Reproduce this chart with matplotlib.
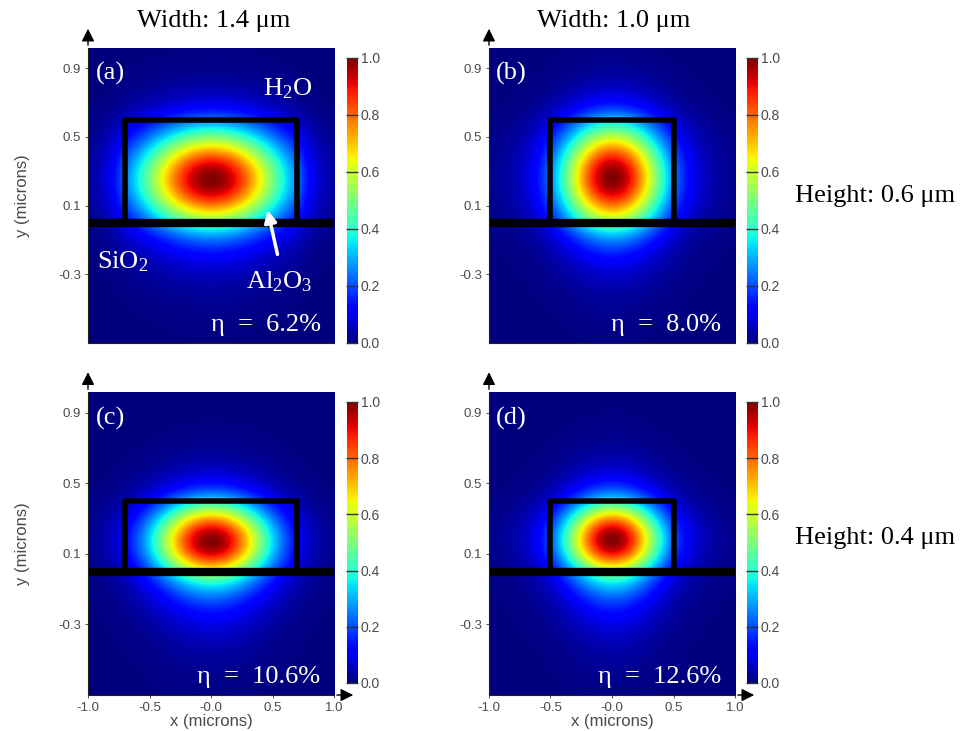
import numpy as np
import matplotlib
matplotlib.use("Agg")
from matplotlib import pyplot as plt

plt.rcParams["mathtext.fontset"] = "custom"
plt.rcParams["mathtext.rm"] = "Liberation Serif"
plt.rcParams["mathtext.it"] = "Liberation Serif:italic"

# waveguide geometry and mode parameters, one entry per panel (a)-(d)
widths = [1.4, 1.0, 1.4, 1.0]
heights = [0.6, 0.6, 0.4, 0.4]
sigma_x = [0.42, 0.305, 0.34, 0.285]
sigma_y = [0.21, 0.228, 0.166, 0.16]
centre_y = [0.25, 0.26, 0.17, 0.18]
decay_side = [0.14, 0.17, 0.15, 0.17]
decay_top = [0.10, 0.11, 0.10, 0.11]
decay_sub = [0.14, 0.15, 0.16, 0.17]
efficiency = ["6.2%", "8.0%", "10.6%", "12.6%"]
panel_tags = ["(a)", "(b)", "(c)", "(d)"]

width_titles = ["Width: 1.4 \u03bcm", "Width: 1.0 \u03bcm"]
height_titles = ["Height: 0.6 \u03bcm", "Height: 0.4 \u03bcm"]

x_ticks = [-1.0, -0.5, 0.0, 0.5, 1.0]
x_tick_labels = ["-1.0", "-0.5", "-0.0", "0.5", "1.0"]
y_ticks = [0.9, 0.5, 0.1, -0.3]
y_tick_labels = ["0.9", "0.5", "0.1", "-0.3"]
cbar_ticks = [0.0, 0.2, 0.4, 0.6, 0.8, 1.0]

XLIM = (-1.0, 1.0)
YLIM = (-0.70, 1.018)
SANS = "Liberation Sans"
SERIF = "Liberation Serif"
GREY = "#4a4a4a"


def mode_profile(i, X, Y):
    w2 = widths[i] / 2
    h = heights[i]
    ax_ = np.abs(X)
    ix = np.exp(-X ** 2 / (2 * sigma_x[i] ** 2))
    ix_edge = np.exp(-w2 ** 2 / (2 * sigma_x[i] ** 2))
    ix = np.where(ax_ <= w2, ix, ix_edge * np.exp(-(ax_ - w2) / decay_side[i]))
    iy = np.exp(-(Y - centre_y[i]) ** 2 / (2 * sigma_y[i] ** 2))
    iy_top = np.exp(-(h - centre_y[i]) ** 2 / (2 * sigma_y[i] ** 2))
    iy_bot = np.exp(-(centre_y[i]) ** 2 / (2 * sigma_y[i] ** 2))
    iy = np.where(Y > h, iy_top * np.exp(-(Y - h) / decay_top[i]), iy)
    iy = np.where(Y < 0, iy_bot * np.exp(Y / decay_sub[i]), iy)
    return ix * iy


fig = plt.figure(figsize=(9.66, 7.31), dpi=100)

ax_boxes = [[0.0911, 0.5308, 0.2547, 0.4036], [0.5062, 0.5308, 0.2547, 0.4036],
            [0.0911, 0.0492, 0.2547, 0.4145], [0.5062, 0.0492, 0.2547, 0.4145]]
cb_boxes = [[0.3592, 0.5308, 0.0114, 0.3899], [0.7733, 0.5308, 0.0114, 0.3899],
            [0.3592, 0.0657, 0.0114, 0.3844], [0.7733, 0.0657, 0.0114, 0.3844]]

xs = np.linspace(XLIM[0], XLIM[1], 500)
ys = np.linspace(YLIM[0], YLIM[1], 500)
X, Y = np.meshgrid(xs, ys)

arrow_kw = dict(arrowstyle="-|>", color="black", lw=1, mutation_scale=19)

for i in range(4):
    ax = fig.add_axes(ax_boxes[i])
    field = mode_profile(i, X, Y)
    im = ax.imshow(field, extent=[XLIM[0], XLIM[1], YLIM[0], YLIM[1]], origin="lower",
                   cmap="jet", vmin=0, vmax=1, aspect="auto", interpolation="bilinear")
    w2 = widths[i] / 2
    ax.plot([-w2, -w2, w2, w2], [0, heights[i], heights[i], 0], color="black", lw=4,
            solid_joinstyle="round", solid_capstyle="butt")
    ax.axhline(0, color="black", lw=6)
    ax.set_xlim(XLIM)
    ax.set_ylim(YLIM)

    ax.set_yticks(y_ticks)
    ax.set_yticklabels(y_tick_labels)
    ax.set_xticks(x_ticks)
    ax.tick_params(length=2, width=0.6, color="#333333", labelsize=9.5, labelcolor=GREY, pad=3)
    if i >= 2:
        ax.set_xticklabels(x_tick_labels)
        ax.set_xlabel("x (microns)", fontsize=12, family=SANS, color=GREY, labelpad=0)
        ax.annotate("", xy=(1 + 22 / 246, 0), xytext=(1, 0), xycoords="axes fraction",
                    arrowprops=arrow_kw, annotation_clip=False)
    else:
        ax.set_xticklabels([])
        ax.tick_params(axis="x", length=0)
    if i % 2 == 0:
        ax.set_ylabel("y (microns)", fontsize=12, family=SANS, color=GREY, labelpad=20)
    ax.annotate("", xy=(0, 1 + 22 / 295), xytext=(0, 1), xycoords="axes fraction",
                arrowprops=arrow_kw, annotation_clip=False)
    for lab in ax.get_xticklabels() + ax.get_yticklabels():
        lab.set_family(SANS)
    for sp in ax.spines.values():
        sp.set_linewidth(0.8)
        sp.set_color("#222222")
    ax.spines["top"].set_visible(False)
    ax.spines["right"].set_visible(False)

    ax.text(-0.94, 0.87, panel_tags[i], color="white", fontsize=19, family=SERIF,
            ha="left", va="center")
    ax.text(0.89, -0.595, "\u03b7  =  " + efficiency[i], color="white", fontsize=19,
            family=SERIF, ha="right", va="center")

    if i == 0:
        ax.text(0.62, 0.78, r"H$_{\mathrm{2}}$O", color="white", fontsize=19,
                family=SERIF, ha="center", va="center")
        ax.text(-0.72, -0.225, r"SiO$_{\mathrm{2}}$", color="white", fontsize=19,
                family=SERIF, ha="center", va="center")
        ax.text(0.55, -0.345, r"Al$_{\mathrm{2}}$O$_{\mathrm{3}}$", color="white",
                fontsize=19, family=SERIF, ha="center", va="center")
        ax.annotate("", xy=(0.455, 0.09), xytext=(0.545, -0.20),
                    arrowprops=dict(arrowstyle="-|>", color="white", lw=2.5,
                                    mutation_scale=18))

    cax = fig.add_axes(cb_boxes[i])
    cb = fig.colorbar(im, cax=cax, ticks=cbar_ticks)
    cb.outline.set_visible(False)
    cb.ax.set_yticklabels(["%.1f" % t for t in cbar_ticks])
    cb.ax.tick_params(direction="in", length=9, width=1, color="#333333",
                      labelsize=10, labelcolor=GREY, pad=2)
    for lab in cb.ax.get_yticklabels():
        lab.set_family(SANS)

for j, t in enumerate(width_titles):
    fig.text([214 / 966, 614 / 966][j], 1 - 21 / 731, t, fontsize=19, family=SERIF,
             ha="center", va="center")
for j, t in enumerate(height_titles):
    fig.text(795 / 966, 1 - [196, 538][j] / 731, t, fontsize=19, family=SERIF,
             ha="left", va="center")

fig.savefig("out.png", dpi=100)
